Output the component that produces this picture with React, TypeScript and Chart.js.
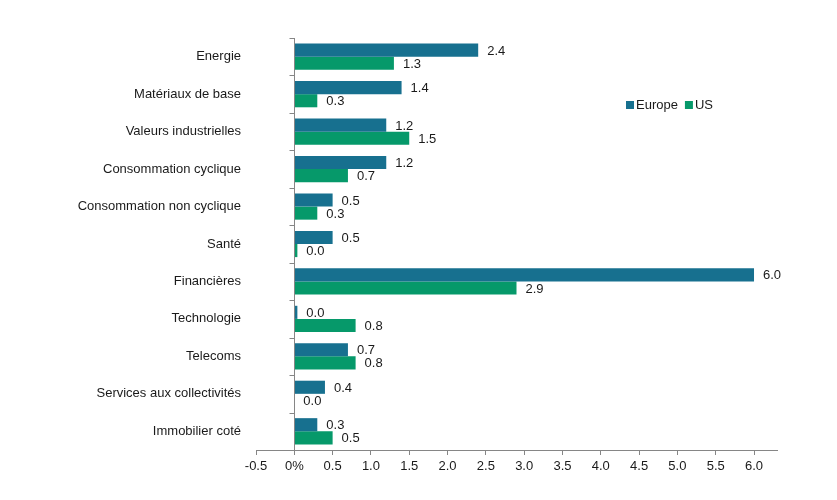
import React, { useEffect, useRef } from "react";
import { Chart, registerables } from "chart.js";

Chart.register(...registerables);

const CATEGORIES = [
  "Energie",
  "Matériaux de base",
  "Valeurs industrielles",
  "Consommation cyclique",
  "Consommation non cyclique",
  "Santé",
  "Financières",
  "Technologie",
  "Telecoms",
  "Services aux collectivités",
  "Immobilier coté",
];

const EUROPE = [2.4, 1.4, 1.2, 1.2, 0.5, 0.5, 6.0, 0.04, 0.7, 0.4, 0.3];
const US = [1.3, 0.3, 1.5, 0.7, 0.3, 0.04, 2.9, 0.8, 0.8, 0.0, 0.5];

const X_TICKS = [-0.5, 0, 0.5, 1, 1.5, 2, 2.5, 3, 3.5, 4, 4.5, 5, 5.5, 6];
const X_MIN = -0.5;
const X_MAX = 6.3;

const EUROPE_COLOR = "#17708f";
const US_COLOR = "#06996a";
const AXIS_COLOR = "#868686";
const TEXT_COLOR = "#1a1a1a";
const FONT_FAMILY = '"Liberation Sans", Arial, sans-serif';
const FONT_SIZE = 13;

// value labels to the right of every bar
const valueLabels = {
  id: "valueLabels",
  afterDatasetsDraw(chart: any) {
    const { ctx } = chart;
    ctx.save();
    ctx.font = `${FONT_SIZE}px ${FONT_FAMILY}`;
    ctx.fillStyle = TEXT_COLOR;
    ctx.textAlign = "left";
    ctx.textBaseline = "middle";
    chart.data.datasets.forEach((ds: any, i: number) => {
      const meta = chart.getDatasetMeta(i);
      meta.data.forEach((bar: any, j: number) => {
        const v = ds.data[j] as number;
        ctx.fillText(v.toFixed(1), bar.x + 9, bar.y + 1);
      });
    });
    ctx.restore();
  },
};

// category axis drawn at zero, with small marks between categories
const zeroAxis = {
  id: "zeroAxis",
  afterDatasetsDraw(chart: any) {
    const { ctx, chartArea } = chart;
    const xs = chart.scales.x;
    const ys = chart.scales.y;
    const x0 = Math.round(xs.getPixelForValue(0)) + 0.5;
    ctx.save();
    ctx.strokeStyle = AXIS_COLOR;
    ctx.lineWidth = 1;
    ctx.beginPath();
    ctx.moveTo(x0, chartArea.top);
    ctx.lineTo(x0, chartArea.bottom);
    const n = CATEGORIES.length;
    const step = (chartArea.bottom - chartArea.top) / n;
    for (let i = 0; i < n; i++) {
      const y = Math.round(ys.getPixelForValue(i) - step / 2) + 0.5;
      ctx.moveTo(x0 - 5, y);
      ctx.lineTo(x0, y);
    }
    ctx.stroke();
    ctx.restore();
  },
};

// legend placed inside the plot, right of the bars
const insideLegend = {
  id: "insideLegend",
  afterDraw(chart: any) {
    const { ctx } = chart;
    ctx.save();
    ctx.font = `${FONT_SIZE}px ${FONT_FAMILY}`;
    ctx.textBaseline = "middle";
    ctx.textAlign = "left";
    let x = 626;
    const y = 105;
    chart.data.datasets.forEach((ds: any) => {
      ctx.fillStyle = ds.backgroundColor;
      ctx.fillRect(x, y - 4, 8, 8);
      ctx.fillStyle = TEXT_COLOR;
      ctx.fillText(ds.label, x + 10, y);
      x += 10 + ctx.measureText(ds.label).width + 7;
    });
    ctx.restore();
  },
};

export default function App() {
  const canvasRef = useRef<HTMLCanvasElement>(null);

  useEffect(() => {
    const canvas = canvasRef.current;
    if (!canvas) return;
    const chart = new Chart(canvas, {
      type: "bar",
      data: {
        labels: CATEGORIES,
        datasets: [
          {
            label: "Europe",
            data: EUROPE,
            backgroundColor: EUROPE_COLOR,
            categoryPercentage: 0.7,
            barPercentage: 1.0,
          },
          {
            label: "US",
            data: US,
            backgroundColor: US_COLOR,
            categoryPercentage: 0.7,
            barPercentage: 1.0,
          },
        ],
      },
      options: {
        indexAxis: "y",
        animation: false,
        responsive: false,
        maintainAspectRatio: false,
        layout: { padding: { top: 38, right: 60, bottom: 0, left: 0 } },
        plugins: {
          legend: { display: false },
          tooltip: { enabled: false },
        },
        scales: {
          x: {
            type: "linear",
            min: X_MIN,
            max: X_MAX,
            afterBuildTicks: (scale: any) => {
              scale.ticks = X_TICKS.map((v) => ({ value: v }));
            },
            afterFit: (scale: any) => {
              scale.height = 50;
            },
            grid: {
              drawOnChartArea: false,
              drawTicks: true,
              tickLength: 5,
              tickColor: AXIS_COLOR,
              color: AXIS_COLOR,
            },
            border: { display: true, color: AXIS_COLOR },
            ticks: {
              padding: 4,
              color: TEXT_COLOR,
              font: { family: FONT_FAMILY, size: FONT_SIZE },
              maxRotation: 0,
              autoSkip: false,
              callback: (v: any) => (Number(v) === 0 ? "0%" : Number(v).toFixed(1)),
            },
          },
          y: {
            type: "category",
            afterFit: (scale: any) => {
              scale.width = 256;
            },
            grid: { display: false, drawTicks: false },
            border: { display: false },
            ticks: {
              padding: 15,
              color: TEXT_COLOR,
              font: { family: FONT_FAMILY, size: FONT_SIZE },
              autoSkip: false,
            },
          },
        },
      },
      plugins: [zeroAxis, valueLabels, insideLegend],
    } as any);
    return () => chart.destroy();
  }, []);

  return (
    <div style={{ position: "fixed", left: 0, top: 0, width: 837, height: 500, background: "#fff" }}>
      <canvas ref={canvasRef} width={837} height={500} style={{ display: "block" }} />
    </div>
  );
}
